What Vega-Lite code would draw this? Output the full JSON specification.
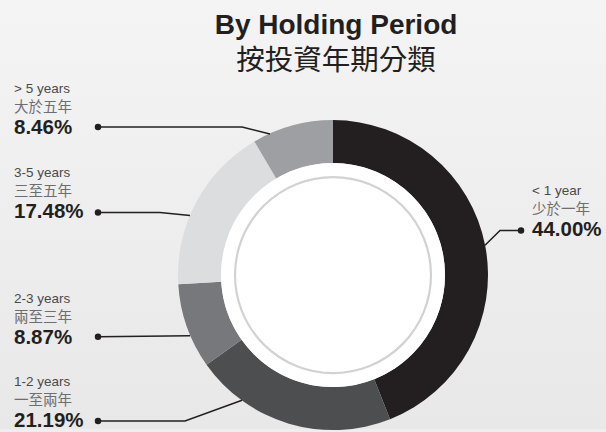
{
  "$schema": "https://vega.github.io/schema/vega-lite/v6.json",
  "width": 606,
  "height": 432,
  "padding": 0,
  "autosize": {"type": "fit", "contains": "padding"},
  "background": "#eeeeee",
  "config": {"view": {"stroke": null}},
  "datasets": {
    "segments": [
      {"category": "< 1 year", "order": 1, "value": 44.00},
      {"category": "1-2 years", "order": 2, "value": 21.19},
      {"category": "2-3 years", "order": 3, "value": 8.87},
      {"category": "3-5 years", "order": 4, "value": 17.48},
      {"category": "> 5 years", "order": 5, "value": 8.46}
    ],
    "labels": [
      {"category": "> 5 years", "en": "> 5 years", "zh": "大於五年", "pct": "8.46%", "tx": 14, "ty": 129, "dotx": 98, "doty": 128},
      {"category": "3-5 years", "en": "3-5 years", "zh": "三至五年", "pct": "17.48%", "tx": 14, "ty": 213, "dotx": 98, "doty": 214},
      {"category": "2-3 years", "en": "2-3 years", "zh": "兩至三年", "pct": "8.87%", "tx": 14, "ty": 340, "dotx": 98, "doty": 339},
      {"category": "1-2 years", "en": "1-2 years", "zh": "一至兩年", "pct": "21.19%", "tx": 14, "ty": 424, "dotx": 98, "doty": 424},
      {"category": "< 1 year", "en": "< 1 year", "zh": "少於一年", "pct": "44.00%", "tx": 532, "ty": 232, "dotx": 521, "doty": 232}
    ],
    "leaders": [
      {"category": "< 1 year", "pt": 1, "px": 521, "py": 232},
      {"category": "< 1 year", "pt": 2, "px": 500, "py": 232},
      {"category": "< 1 year", "pt": 3, "px": 485, "py": 247},
      {"category": "1-2 years", "pt": 1, "px": 98, "py": 424},
      {"category": "1-2 years", "pt": 2, "px": 185, "py": 424},
      {"category": "1-2 years", "pt": 3, "px": 242, "py": 403},
      {"category": "2-3 years", "pt": 1, "px": 98, "py": 339},
      {"category": "2-3 years", "pt": 2, "px": 190, "py": 338},
      {"category": "3-5 years", "pt": 1, "px": 98, "py": 214},
      {"category": "3-5 years", "pt": 2, "px": 160, "py": 214},
      {"category": "3-5 years", "pt": 3, "px": 190, "py": 217},
      {"category": "> 5 years", "pt": 1, "px": 98, "py": 128},
      {"category": "> 5 years", "pt": 2, "px": 242, "py": 128},
      {"category": "> 5 years", "pt": 3, "px": 270, "py": 135}
    ],
    "titles": [
      {"title": "By Holding Period", "subtitle": "按投資年期分類", "cx": 336, "ty": 26, "sy": 61}
    ]
  },
  "layer": [
    {
      "data": {"values": [{}]},
      "mark": {"type": "rect", "fill": {"gradient": "linear", "x1": 0, "y1": 0, "x2": 0, "y2": 1, "stops": [{"offset": 0, "color": "#f4f4f4"}, {"offset": 1, "color": "#e8e8e8"}]}},
      "encoding": {
        "x": {"datum": 0, "type": "quantitative", "scale": {"domain": [0, 606], "nice": false, "zero": false}, "axis": null},
        "x2": {"datum": 606},
        "y": {"datum": 0, "type": "quantitative", "scale": {"domain": [0, 432], "nice": false, "zero": false, "reverse": true}, "axis": null},
        "y2": {"datum": 432}
      }
    },
    {
      "data": {"name": "segments"},
      "mark": {"type": "arc", "outerRadius": 155, "innerRadius": 112},
      "encoding": {
        "theta": {"field": "value", "type": "quantitative", "stack": true},
        "order": {"field": "order", "type": "quantitative"},
        "color": {"field": "category", "type": "nominal", "legend": null,
          "scale": {"domain": ["< 1 year", "1-2 years", "2-3 years", "3-5 years", "> 5 years"],
                    "range": ["#231f20", "#4d4e50", "#77787b", "#dcdddf", "#9d9fa2"]}},
        "x": {"datum": 333, "type": "quantitative"},
        "y": {"datum": 277, "type": "quantitative"}
      }
    },
    {
      "data": {"values": [{}]},
      "mark": {"type": "point", "shape": "circle", "filled": true, "color": "#ffffff", "opacity": 1, "size": 50176},
      "encoding": {
        "x": {"datum": 333, "type": "quantitative"},
        "y": {"datum": 277, "type": "quantitative"}
      }
    },
    {
      "data": {"values": [{}]},
      "mark": {"type": "point", "shape": "circle", "filled": false, "fill": null, "stroke": "#d2d2d2", "strokeWidth": 2.2, "opacity": 1, "size": 38416},
      "encoding": {
        "x": {"datum": 333, "type": "quantitative"},
        "y": {"datum": 277, "type": "quantitative"}
      }
    },
    {
      "data": {"name": "leaders"},
      "mark": {"type": "line", "color": "#231f20", "strokeWidth": 1.5},
      "encoding": {
        "x": {"field": "px", "type": "quantitative"},
        "y": {"field": "py", "type": "quantitative"},
        "detail": {"field": "category"},
        "order": {"field": "pt", "type": "quantitative"}
      }
    },
    {
      "data": {"name": "labels"},
      "mark": {"type": "point", "shape": "circle", "filled": true, "color": "#231f20", "opacity": 1, "size": 42},
      "encoding": {
        "x": {"field": "dotx", "type": "quantitative"},
        "y": {"field": "doty", "type": "quantitative"}
      }
    },
    {
      "data": {"name": "labels"},
      "mark": {"type": "text", "align": "left", "baseline": "middle", "dy": -39, "font": "Liberation Sans", "fontSize": 13.5, "color": "#4a4a4a"},
      "encoding": {
        "x": {"field": "tx", "type": "quantitative"},
        "y": {"field": "ty", "type": "quantitative"},
        "text": {"field": "en"}
      }
    },
    {
      "data": {"name": "labels"},
      "mark": {"type": "text", "align": "left", "baseline": "middle", "dy": -20, "font": "Noto Sans CJK TC", "fontSize": 14.5, "color": "#6d6e71"},
      "encoding": {
        "x": {"field": "tx", "type": "quantitative"},
        "y": {"field": "ty", "type": "quantitative"},
        "text": {"field": "zh"}
      }
    },
    {
      "data": {"name": "labels"},
      "mark": {"type": "text", "align": "left", "baseline": "middle", "font": "Liberation Sans", "fontWeight": "bold", "fontSize": 20.5, "color": "#231f20"},
      "encoding": {
        "x": {"field": "tx", "type": "quantitative"},
        "y": {"field": "ty", "type": "quantitative"},
        "text": {"field": "pct"}
      }
    },
    {
      "data": {"name": "titles"},
      "mark": {"type": "text", "align": "center", "baseline": "middle", "font": "Liberation Sans", "fontWeight": "bold", "fontSize": 28, "color": "#231f20"},
      "encoding": {
        "x": {"field": "cx", "type": "quantitative"},
        "y": {"field": "ty", "type": "quantitative"},
        "text": {"field": "title"}
      }
    },
    {
      "data": {"name": "titles"},
      "mark": {"type": "text", "align": "center", "baseline": "middle", "font": "Noto Sans CJK TC", "fontSize": 28.5, "color": "#231f20"},
      "encoding": {
        "x": {"field": "cx", "type": "quantitative"},
        "y": {"field": "sy", "type": "quantitative"},
        "text": {"field": "subtitle"}
      }
    }
  ]
}
